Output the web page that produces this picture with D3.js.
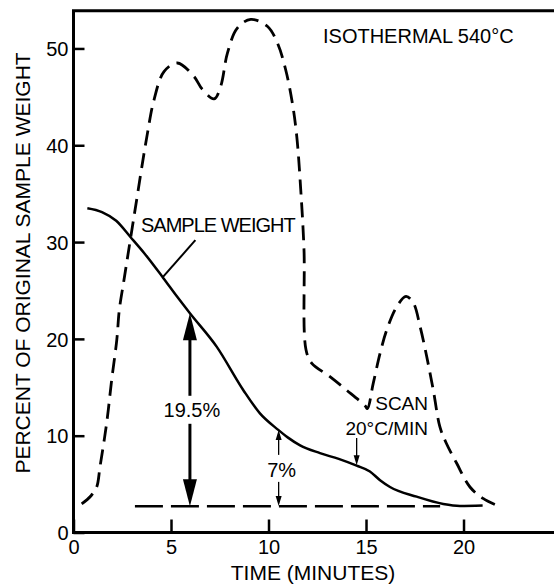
<!DOCTYPE html>
<html><head><meta charset="utf-8">
<script src="https://cdn.jsdelivr.net/npm/d3@7"></script>
<style>
body{margin:0;background:#fff}
text{font-family:"Liberation Sans",Arial,Helvetica,sans-serif;fill:#000}
</style>
</head><body>
<svg id="c" width="554" height="584"></svg>
<script>
// ---- data ----
const xTicks = [0, 5, 10, 15, 20];
const yTicks = [0, 10, 20, 30, 40, 50];

// dashed curve (weight-loss rate / scan trace)
const rateTime  = [0.42,0.9,1.19,1.36,1.70,1.96,2.22,2.35,2.59,3.10,3.78,4.13,4.64,5.32,6.18,6.6,7.21,7.55,7.89,8.40,9.09,9.94,10.45,10.88,11.22,11.45,11.65,11.82,11.92,12.21,13.15,14.01,14.95,15.07,15.37,15.72,16.06,16.57,17.05,17.43,17.77,18.11,18.45,18.79,19.1,19.65,20.33,21.02,21.82];
const rateValue = [2.95,3.8,4.7,6.8,11.3,15.8,19.9,23.0,26.1,32.6,41.1,44.7,47.6,48.5,47.1,45.8,44.8,46.1,49.5,52.1,53.0,52.3,50.6,47.8,44.4,40.9,35.5,29.2,18.9,17.5,16.1,14.7,13.1,12.8,15.4,18.5,20.9,23.3,24.4,23.7,21.3,18.2,14.7,10.9,9.3,7.15,4.7,3.5,2.7];

// solid curve (sample weight)
const weightTime  = [0.71,1.46,2.19,2.93,3.65,4.6,5.3,5.97,7.34,8.71,9.56,10.5,11.0,11.62,12.64,13.6,14.52,15.2,15.72,16.23,17.6,18.96,19.82,20.98];
const weightValue = [33.5,33.1,32.2,30.5,28.8,26.3,24.4,22.65,19.2,14.7,12.3,10.6,9.8,9.0,8.2,7.6,6.9,6.3,5.4,4.7,3.7,2.95,2.75,2.8];

// residue baseline
const baselineTime = [3.15, 18.8];
const baselineValue = 2.7;

// annotations (data units)
const bigArrow   = {x: 5.97, top: 22.65, bottom: 2.7, label: "19.5%"};
const smallArrow = {x: 10.52, top: 10.6, bottom: 2.75, label: "7%"};
const scanArrow  = {x: 14.52, from: 9.75, to: 6.95};
const weightPointer = {x1: 6.25, y1: 30.2, x2: 4.59, y2: 26.4};

// ---- scales ----
const x = d3.scaleLinear().domain([0, 24.64]).range([73.5, 554]);
const y = d3.scaleLinear().domain([0, 53.9]).range([532.5, 10.7]);

const svg = d3.select("#c");

// frame: left, top, bottom (no right)
const [x0, x1] = x.range();
const [yb, yt] = y.range();
svg.append("path")
  .attr("d", `M${x1},${yt}H${x0}V${yb}H${x1}`)
  .attr("fill", "none").attr("stroke", "#000").attr("stroke-width", 3);

// axes
const yAxis = d3.axisLeft(y).tickValues(yTicks).tickSize(-11).tickPadding(5).tickFormat(d3.format("d"));
const gy = svg.append("g").attr("transform", `translate(${x0},0)`).call(yAxis);
gy.select(".domain").remove();
gy.selectAll("line").attr("stroke", "#000").attr("stroke-width", 2.5);
gy.selectAll("text").attr("font-size", 20).attr("fill", "#000").attr("font-family", '"Liberation Sans",Arial,sans-serif').attr("dy", "0.36em");

const xAxis = d3.axisBottom(x).tickValues(xTicks).tickSize(-13).tickPadding(7.5).tickFormat(d3.format("d"));
const gx = svg.append("g").attr("transform", `translate(0,${yb})`).call(xAxis);
gx.select(".domain").remove();
gx.selectAll("line").attr("stroke", "#000").attr("stroke-width", 2.5);
gx.selectAll("text").attr("font-size", 20).attr("fill", "#000").attr("font-family", '"Liberation Sans",Arial,sans-serif');

// axis titles
svg.append("text").attr("transform", "translate(30,263) rotate(-90)")
  .attr("text-anchor", "middle").attr("font-size", 21)
  .text("PERCENT OF ORIGINAL SAMPLE WEIGHT");
svg.append("text").attr("x", 313).attr("y", 580)
  .attr("text-anchor", "middle").attr("font-size", 21)
  .text("TIME (MINUTES)");

// curves
const rateLine = d3.line().x((d) => x(d[0])).y((d) => y(d[1])).curve(d3.curveCatmullRom.alpha(0.5));
const weightLine = d3.line().x((d) => x(d[0])).y((d) => y(d[1])).curve(d3.curveMonotoneX);
svg.append("path").datum(d3.zip(rateTime, rateValue))
  .attr("d", rateLine).attr("fill", "none").attr("stroke", "#000")
  .attr("stroke-width", 2.8).attr("stroke-dasharray", "15,8");

svg.append("path").datum(d3.zip(weightTime, weightValue))
  .attr("d", weightLine).attr("fill", "none").attr("stroke", "#000")
  .attr("stroke-width", 2.5);

svg.append("line")
  .attr("x1", x(baselineTime[0])).attr("x2", x(baselineTime[1]))
  .attr("y1", y(baselineValue)).attr("y2", y(baselineValue))
  .attr("stroke", "#000").attr("stroke-width", 2.5).attr("stroke-dasharray", "28,8");

// helpers for arrows
function head(px, py, dir, len, hw) { // dir: -1 points up, +1 points down
  const by = py - dir * len;
  return `M${px},${py}L${px - hw},${by}L${px + hw},${by}Z`;
}

// big 19.5% arrow
{
  const ax = x(bigArrow.x), ty = y(bigArrow.top), by = y(bigArrow.bottom);
  const mid = (ty + by) / 2;
  svg.append("path").attr("d", head(ax, ty, -1, 27, 7)).attr("fill", "#000");
  svg.append("path").attr("d", head(ax, by, 1, 27, 7)).attr("fill", "#000");
  svg.append("line").attr("x1", ax).attr("x2", ax).attr("y1", ty + 26).attr("y2", mid - 14)
    .attr("stroke", "#000").attr("stroke-width", 3);
  svg.append("line").attr("x1", ax).attr("x2", ax).attr("y1", mid + 14).attr("y2", by - 26)
    .attr("stroke", "#000").attr("stroke-width", 3);
  svg.append("text").attr("x", ax + 2).attr("y", mid + 7.5).attr("text-anchor", "middle")
    .attr("font-size", 20).text(bigArrow.label);
}

// small 7% arrow
{
  const ax = x(smallArrow.x), ty = y(smallArrow.top), by = y(smallArrow.bottom);
  const mid = (ty + by) / 2 + 2;
  svg.append("path").attr("d", head(ax, ty, -1, 10, 3)).attr("fill", "#000");
  svg.append("path").attr("d", head(ax, by, 1, 10, 3)).attr("fill", "#000");
  svg.append("line").attr("x1", ax).attr("x2", ax).attr("y1", ty + 9).attr("y2", mid - 15)
    .attr("stroke", "#000").attr("stroke-width", 1.3);
  svg.append("line").attr("x1", ax).attr("x2", ax).attr("y1", mid + 12).attr("y2", by - 9)
    .attr("stroke", "#000").attr("stroke-width", 1.3);
  svg.append("text").attr("x", ax + 3).attr("y", mid + 7).attr("text-anchor", "middle")
    .attr("font-size", 20).text(smallArrow.label);
}

// scan arrow
{
  const ax = x(scanArrow.x), fy = y(scanArrow.from), ty = y(scanArrow.to);
  svg.append("line").attr("x1", ax).attr("x2", ax).attr("y1", fy).attr("y2", ty - 9)
    .attr("stroke", "#000").attr("stroke-width", 1.3);
  svg.append("path").attr("d", head(ax, ty, 1, 10, 3)).attr("fill", "#000");
  svg.append("text").attr("x", 428).attr("y", 410).attr("text-anchor", "end")
    .attr("font-size", 19).text("SCAN");
  svg.append("text").attr("x", 428).attr("y", 435).attr("text-anchor", "end")
    .attr("font-size", 19).text("20°C/MIN");
}

// sample weight label + pointer
svg.append("line")
  .attr("x1", x(weightPointer.x1)).attr("y1", y(weightPointer.y1))
  .attr("x2", x(weightPointer.x2)).attr("y2", y(weightPointer.y2))
  .attr("stroke", "#000").attr("stroke-width", 2);
svg.append("text").attr("x", 141).attr("y", 232).attr("font-size", 20)
  .attr("letter-spacing", -1).text("SAMPLE WEIGHT");

svg.append("text").attr("x", 323).attr("y", 43).attr("font-size", 20)
  .text("ISOTHERMAL 540°C");
</script>
</body></html>
